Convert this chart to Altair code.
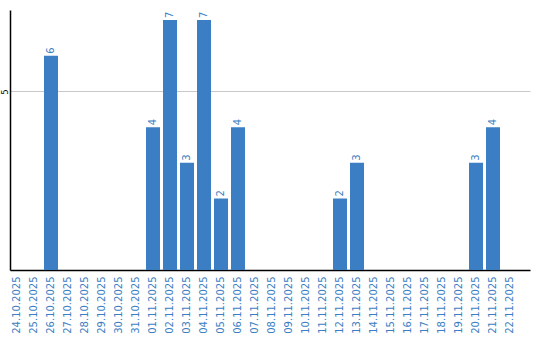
import altair as alt
import pandas as pd

dates = ["24.10.2025", "25.10.2025", "26.10.2025", "27.10.2025", "28.10.2025",
         "29.10.2025", "30.10.2025", "31.10.2025", "01.11.2025", "02.11.2025",
         "03.11.2025", "04.11.2025", "05.11.2025", "06.11.2025", "07.11.2025",
         "08.11.2025", "09.11.2025", "10.11.2025", "11.11.2025", "12.11.2025",
         "13.11.2025", "14.11.2025", "15.11.2025", "16.11.2025", "17.11.2025",
         "18.11.2025", "19.11.2025", "20.11.2025", "21.11.2025", "22.11.2025"]
counts = [0, 0, 6, 0, 0, 0, 0, 0, 4, 7,
          3, 7, 2, 4, 0, 0, 0, 0, 0, 2,
          3, 0, 0, 0, 0, 0, 0, 3, 4, 0]

df = pd.DataFrame({"date": dates, "count": counts})
df["label"] = df["count"].apply(lambda v: str(v) if v > 0 else "")

BLUE = "#3b7ec3"

x = alt.X("date:N", sort=dates,
          scale=alt.Scale(paddingInner=0.176, paddingOuter=0.382, align=0),
          axis=alt.Axis(title=None, labelAngle=270, labelColor=BLUE, labelFontSize=10,
                        labelFont="DejaVu Sans", ticks=False, labelPadding=6,
                        domainColor="black", domainWidth=1.5, grid=False))
y = alt.Y("count:Q", scale=alt.Scale(domain=[0, 7.28], nice=False),
          axis=alt.Axis(title=None, values=[5], labelAngle=270, labelFontSize=8,
                        labelFont="DejaVu Sans", labelColor="black", ticks=False,
                        labelPadding=1, domainColor="black", domainWidth=1.5,
                        gridColor="#c8c8c8", gridWidth=1))

bars = alt.Chart(df).mark_bar(color=BLUE).encode(x=x, y=y)
text = alt.Chart(df).mark_text(angle=270, align="left", baseline="middle", dx=2,
                               color=BLUE, fontSize=10, font="DejaVu Sans").encode(
    x=alt.X("date:N", sort=dates), y="count:Q", text="label:N")

chart = (bars + text).properties(
    width=520, height=260,
    autosize=alt.AutoSizeParams(type="none"),
    padding={"left": 10, "top": 10, "right": 10, "bottom": 70},
).configure_view(stroke=None)

chart.save("out.html", embed_options={"renderer": "svg", "actions": False})
